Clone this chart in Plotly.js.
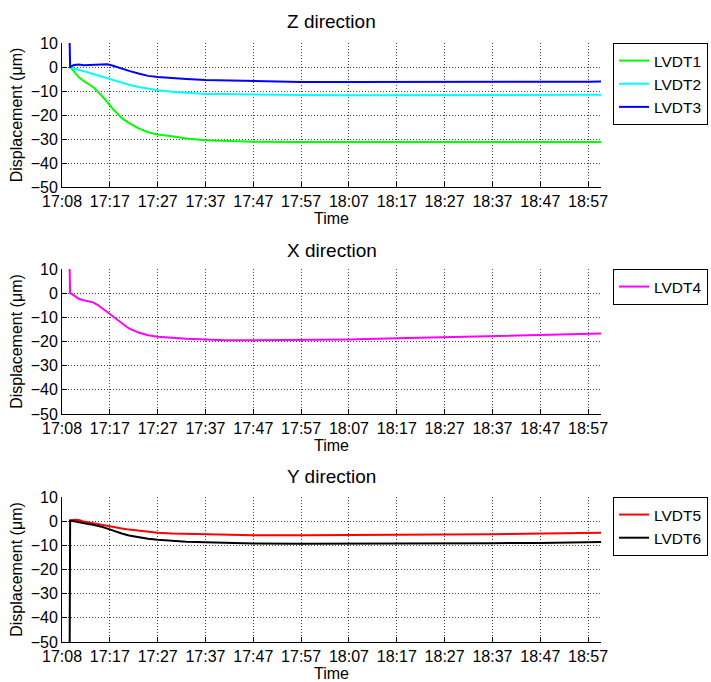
<!DOCTYPE html>
<html>
<head>
<meta charset="utf-8">
<script src="https://cdn.plot.ly/plotly-3.0.1.min.js"></script>
<style>html,body{margin:0;padding:0;background:#fff;}#chart{width:711px;height:682px;}</style>
</head>
<body>
<div id="chart"></div>
<script>
// minutes elapsed since 17:08
const timeMin = [1.6, 1.7, 2.5, 3.5, 4.5, 5.5, 6.5, 7.5, 8.5, 9.5, 10.5, 11.5, 12.5, 14, 16, 18, 20, 23, 26, 30, 34, 40, 50, 60, 70, 80, 90, 100, 110, 112.7];
const tickMinutes = [0, 10, 20, 30, 40, 50, 60, 70, 80, 90, 100, 110];
const tickLabels = ["17:08", "17:17", "17:27", "17:37", "17:47", "17:57", "18:07", "18:17", "18:27", "18:37", "18:47", "18:57"];

const lvdt1 = [0, 0, -1.8, -4.2, -5.8, -6.9, -8.3, -10.2, -12.2, -14.6, -17.2, -19.4, -21.3, -23.3, -25.6, -27.2, -28.1, -28.9, -29.8, -30.5, -30.8, -31.1, -31.3, -31.3, -31.2, -31.3, -31.2, -31.3, -31.2, -31.3];
const lvdt2 = [0, 0, -0.6, -1.1, -1.5, -2.3, -2.9, -3.5, -4.1, -4.7, -5.3, -6.0, -6.6, -7.4, -8.3, -9.1, -9.7, -10.3, -10.7, -11.2, -11.3, -11.5, -11.7, -11.8, -11.7, -11.7, -11.6, -11.7, -11.6, -11.6];
const lvdt3 = [10, 0, 0.8, 1.0, 0.7, 0.8, 0.9, 1.1, 1.2, 1.1, 0.6, -0.1, -0.7, -1.6, -2.7, -3.7, -4.2, -4.7, -5.0, -5.4, -5.6, -6.0, -6.2, -6.2, -6.1, -6.1, -6.1, -6.1, -6.1, -6.0];
const lvdt4 = [10, 0, -0.9, -2.3, -2.9, -3.4, -3.8, -4.9, -6.4, -8.0, -9.7, -11.2, -12.7, -14.6, -16.3, -17.4, -18.0, -18.5, -18.9, -19.2, -19.5, -19.5, -19.4, -19.2, -18.7, -18.3, -17.9, -17.4, -17.0, -16.7];
const lvdt5 = [0, 0.3, 0.6, 0.5, -0.1, -0.5, -0.9, -1.3, -1.7, -2.0, -2.4, -2.7, -3.0, -3.5, -4.0, -4.5, -4.8, -5.1, -5.2, -5.5, -5.7, -5.8, -5.8, -5.8, -5.6, -5.5, -5.4, -5.2, -4.9, -4.8];
const lvdt6 = [-55, 0.2, 0, -0.5, -0.8, -1.2, -1.5, -1.9, -2.4, -3.1, -3.8, -4.5, -5.1, -5.9, -6.7, -7.3, -7.7, -8.1, -8.5, -8.7, -9.0, -9.2, -9.4, -9.4, -9.3, -9.2, -9.1, -9.0, -8.7, -8.6];

const panelTitles = ["Z direction", "X direction", "Y direction"];

const FONT = "Liberation Sans, Arial, sans-serif";

function tr(y, name, color, ax, leg) {
  return {x: timeMin, y: y, name: name, type: "scatter", mode: "lines",
    line: {color: color, width: 2}, xaxis: ax.x, yaxis: ax.y, legend: leg};
}
const A1 = {x: "x", y: "y"}, A2 = {x: "x2", y: "y2"}, A3 = {x: "x3", y: "y3"};
const data = [
  tr(lvdt1, "LVDT1", "#00ff00", A1, "legend"),
  tr(lvdt2, "LVDT2", "#00ffff", A1, "legend"),
  tr(lvdt3, "LVDT3", "#0000ff", A1, "legend"),
  tr(lvdt4, "LVDT4", "#ff00ff", A2, "legend2"),
  tr(lvdt5, "LVDT5", "#ff0000", A3, "legend3"),
  tr(lvdt6, "LVDT6", "#000000", A3, "legend3")
];

function xax(anchor) {
  return {anchor: anchor, domain: [0, 1], range: [0, 112.7], tickmode: "array",
    tickvals: tickMinutes, ticktext: tickLabels, ticks: "inside", ticklen: 5,
    tickcolor: "#000", showline: true, linecolor: "#000", linewidth: 1,
    showgrid: true, gridcolor: "#444", griddash: "1px,2px", gridwidth: 1,
    zeroline: false, tickfont: {family: FONT, size: 16, color: "#000"}, automargin: false,
    title: {text: "Time", font: {family: FONT, size: 16, color: "#000"}, standoff: 2}};
}
function yax(anchor, dom) {
  return {anchor: anchor, domain: dom, range: [-50, 10], tickvals: [-50, -40, -30, -20, -10, 0, 10],
    ticks: "inside", ticklen: 5, tickcolor: "#000", showline: true, linecolor: "#000", linewidth: 1,
    showgrid: true, gridcolor: "#444", griddash: "1px,2px", gridwidth: 1, zeroline: false,
    tickfont: {family: FONT, size: 16, color: "#000"}, automargin: false,
    title: {text: "Displacement (μm)", font: {family: FONT, size: 16, color: "#000"}, standoff: 4}};
}
function leg(y) {
  return {x: 1.0223, y: y, xanchor: "left", yanchor: "top", bgcolor: "#fff",
    bordercolor: "#000", borderwidth: 1, font: {family: FONT, size: 15.5, color: "#000"},
    tracegroupgap: 0};
}

const titleY = [1.0351, 0.6544, 0.2755];
const layout = {
  width: 711, height: 682,
  margin: {l: 62, r: 110, t: 43, b: 40, autoexpand: false},
  paper_bgcolor: "#fff", plot_bgcolor: "#fff",
  font: {family: FONT, color: "#000"},
  showlegend: true,
  xaxis: xax("y"), yaxis: yax("x", [0.7596, 1]),
  xaxis2: xax("y2"), yaxis2: yax("x2", [0.3806, 0.6227]),
  xaxis3: xax("y3"), yaxis3: yax("x3", [0, 0.2421]),
  legend: leg(1.0), legend2: leg(0.6227), legend3: leg(0.2421),
  annotations: panelTitles.map((t, i) => ({text: t, xref: "paper", yref: "paper", x: 0.5, y: titleY[i],
    xanchor: "center", yanchor: "middle", showarrow: false, font: {family: FONT, size: 19, color: "#000"}}))
};

Plotly.newPlot("chart", data, layout, {displayModeBar: false, staticPlot: true});
</script>
</body>
</html>
